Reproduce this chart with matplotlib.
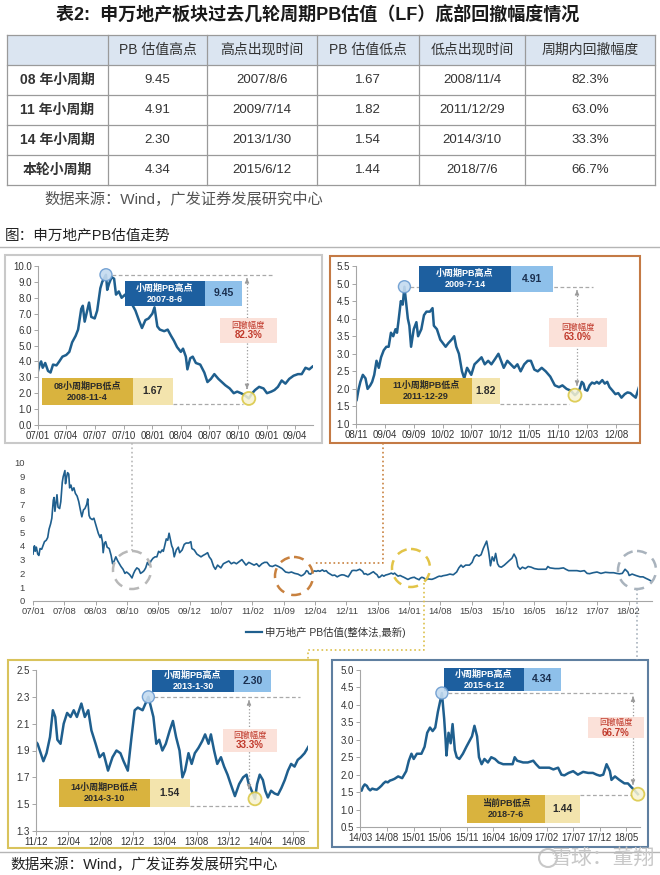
import numpy as np
import pandas as pd
import matplotlib
matplotlib.use('Agg')
import matplotlib.pyplot as plt
import matplotlib.dates as mdates
from matplotlib.patches import Rectangle, Circle

plt.rcParams['font.family'] = ['Liberation Sans', 'Noto Sans CJK SC']

W, H = 660, 875
LINE = '#1f5f8e'

# table values
cycles = ['08 年小周期', '11 年小周期', '14 年小周期', '本轮小周期']
headers = ['', 'PB 估值高点', '高点出现时间', 'PB 估值低点', '低点出现时间', '周期内回撤幅度']
pb_high = [9.45, 4.91, 2.30, 4.34]
high_dates = ['2007/8/6', '2009/7/14', '2013/1/30', '2015/6/12']
pb_low = [1.67, 1.82, 1.54, 1.44]
low_dates = ['2008/11/4', '2011/12/29', '2014/3/10', '2018/7/6']
drawdown = [82.3, 63.0, 33.3, 66.7]
low_tags = ['08小周期PB低点', '11小周期PB低点', '14小周期PB低点', '当前PB低点']

# PB series
dates = [
    '2007-01-01', '2007-01-06', '2007-01-11', '2007-01-16', '2007-01-24', '2007-02-02', '2007-02-10', '2007-02-18',
    '2007-03-01', '2007-03-10', '2007-03-20', '2007-04-01', '2007-04-11', '2007-04-20', '2007-05-01', '2007-05-09',
    '2007-05-19', '2007-05-24', '2007-05-30', '2007-06-06', '2007-06-13', '2007-06-20', '2007-07-01', '2007-07-09',
    '2007-07-19', '2007-07-25', '2007-08-06', '2007-08-10', '2007-08-16', '2007-08-24', '2007-09-01', '2007-09-07',
    '2007-09-16', '2007-09-25', '2007-10-06', '2007-10-16', '2007-10-28', '2007-11-08', '2007-11-19', '2007-11-29',
    '2007-12-10', '2007-12-20',
    '2008-01-01', '2008-01-08', '2008-01-17', '2008-01-25', '2008-02-08', '2008-02-19', '2008-03-01', '2008-03-10',
    '2008-03-20', '2008-04-01', '2008-04-08', '2008-04-17', '2008-04-22', '2008-05-01', '2008-05-09', '2008-05-19',
    '2008-06-02', '2008-06-15', '2008-06-25', '2008-07-06', '2008-07-17', '2008-07-30', '2008-08-10', '2008-08-21',
    '2008-09-04', '2008-09-17', '2008-09-28', '2008-10-10', '2008-10-20', '2008-11-04', '2008-11-15', '2008-11-24',
    '2008-12-07', '2008-12-21',
    '2009-01-01', '2009-01-15', '2009-01-25', '2009-02-05', '2009-02-17', '2009-03-01', '2009-03-13', '2009-03-27',
    '2009-04-10', '2009-04-22', '2009-05-04', '2009-05-16', '2009-05-28', '2009-06-05', '2009-06-12', '2009-06-25',
    '2009-07-05', '2009-07-14', '2009-07-22', '2009-08-01', '2009-08-09', '2009-08-18', '2009-09-01', '2009-09-15',
    '2009-09-24', '2009-10-11', '2009-10-25', '2009-11-07', '2009-11-25', '2009-12-09', '2009-12-16',
    '2010-01-01', '2010-01-19', '2010-02-02', '2010-02-16', '2010-03-02', '2010-03-19', '2010-04-02', '2010-04-13',
    '2010-04-27', '2010-05-13', '2010-05-25', '2010-06-09', '2010-07-01', '2010-07-18', '2010-08-06', '2010-08-24',
    '2010-09-10', '2010-09-28', '2010-10-15', '2010-11-03', '2010-11-21', '2010-12-05', '2010-12-19',
    '2011-01-07', '2011-01-25', '2011-02-12', '2011-03-01', '2011-03-18', '2011-04-06', '2011-04-24', '2011-05-11',
    '2011-05-29', '2011-06-16', '2011-07-07', '2011-07-28', '2011-08-21', '2011-09-14', '2011-10-06', '2011-10-24',
    '2011-11-15', '2011-12-07', '2011-12-29',
    '2012-01-10', '2012-01-23', '2012-02-03', '2012-02-12', '2012-02-20', '2012-03-03', '2012-03-15', '2012-03-28',
    '2012-04-10', '2012-04-22', '2012-05-04', '2012-05-21', '2012-06-03', '2012-06-16', '2012-06-28', '2012-07-14',
    '2012-07-29', '2012-08-13', '2012-08-30', '2012-09-16', '2012-10-01', '2012-10-16', '2012-10-28', '2012-11-13',
    '2012-11-27', '2012-12-09', '2012-12-21',
    '2013-01-08', '2013-01-30', '2013-02-18', '2013-03-01', '2013-03-12', '2013-03-24', '2013-04-06', '2013-04-21',
    '2013-05-03', '2013-05-15', '2013-05-28', '2013-06-08', '2013-06-18', '2013-07-01', '2013-07-13', '2013-07-25',
    '2013-08-08', '2013-08-22', '2013-09-02', '2013-09-15', '2013-09-24', '2013-10-06', '2013-10-18', '2013-11-01',
    '2013-11-13', '2013-11-26', '2013-12-08', '2013-12-24',
    '2014-01-09', '2014-01-24', '2014-02-06', '2014-02-13', '2014-03-10', '2014-03-18', '2014-03-28', '2014-04-09',
    '2014-04-18', '2014-04-28', '2014-05-10', '2014-05-23', '2014-06-05', '2014-06-18', '2014-07-01', '2014-07-13',
    '2014-07-25', '2014-08-07', '2014-08-19', '2014-08-31', '2014-09-14', '2014-10-05', '2014-10-28', '2014-11-20',
    '2014-12-05', '2014-12-20',
    '2015-01-02', '2015-01-20', '2015-02-15', '2015-03-05', '2015-03-20', '2015-04-05', '2015-04-20', '2015-05-05',
    '2015-05-20', '2015-06-12', '2015-06-25', '2015-07-03', '2015-07-08', '2015-07-20', '2015-08-01', '2015-08-12',
    '2015-08-25', '2015-09-05', '2015-09-20', '2015-10-10', '2015-10-30', '2015-11-15', '2015-12-01', '2015-12-15',
    '2015-12-30',
    '2016-01-10', '2016-01-25', '2016-02-10', '2016-03-01', '2016-03-20', '2016-04-10', '2016-05-01', '2016-05-27',
    '2016-06-25', '2016-07-20', '2016-08-01', '2016-08-15', '2016-09-18', '2016-10-15', '2016-11-15', '2016-12-01',
    '2016-12-20',
    '2017-01-15', '2017-02-15', '2017-03-10', '2017-04-06', '2017-04-25', '2017-05-12', '2017-06-05', '2017-07-01',
    '2017-07-28', '2017-08-27', '2017-09-25', '2017-10-22', '2017-11-12', '2017-12-01', '2017-12-20',
    '2018-01-08', '2018-01-27', '2018-02-05', '2018-02-25', '2018-03-22', '2018-04-20', '2018-05-10', '2018-05-28',
    '2018-06-17', '2018-07-06',
]
pb = [
    3.4, 3.8, 4.0, 3.6, 3.9, 3.4, 3.3, 3.8,
    3.75, 4.0, 4.3, 4.4, 4.6, 5.2, 5.6, 6.0,
    7.3, 7.5, 6.5, 7.1, 7.7, 6.8, 6.7, 7.2,
    8.6, 9.0, 9.45, 8.5, 8.9, 9.3, 9.2, 8.2,
    8.4, 8.0, 8.2, 7.8, 7.6, 7.2, 6.6, 6.1,
    6.6, 6.7,
    7.0, 7.4, 6.2, 6.0, 5.9, 6.0, 5.6, 5.3,
    4.9, 4.6, 4.8, 4.3, 3.5, 4.2, 4.3, 3.9,
    3.8, 3.3, 2.7, 2.9, 3.2, 2.9, 2.7, 2.5,
    2.3, 2.0, 2.1, 2.0, 1.9, 1.67, 2.0, 2.2,
    2.4, 2.3,
    2.0, 2.1, 2.2, 2.4, 2.8, 2.6, 2.9, 3.1,
    3.2, 3.2, 3.6, 3.5, 3.7, 3.6, 3.9, 4.5,
    4.4, 4.91, 4.5, 4.0, 3.8, 3.2, 3.7, 3.9,
    3.5, 3.7, 4.1, 4.2, 4.2, 4.3, 3.8,
    3.7, 3.4, 3.3, 3.2, 3.3, 3.4, 3.5, 3.2,
    3.0, 2.5, 2.3, 2.6, 2.4, 2.7, 2.8, 2.9,
    2.7, 2.8, 2.7, 2.85, 3.0, 2.8, 2.6,
    2.8, 2.7, 2.6, 2.7, 2.5, 2.7, 2.8, 2.8,
    2.55, 2.5, 2.6, 2.5, 2.35, 2.1, 2.05, 2.1,
    2.0, 1.95, 1.82,
    1.88, 2.0, 2.2, 2.15, 1.98, 1.95, 2.1, 2.18,
    2.15, 2.2, 2.15, 2.25, 2.15, 2.2, 2.05, 1.95,
    1.85, 1.88, 1.75, 1.85, 1.9, 1.88, 1.82, 1.75,
    2.0, 2.2, 2.22,
    2.2, 2.30, 2.15, 1.95, 1.98, 1.9, 1.95, 2.05,
    2.12, 2.0, 1.9, 1.7, 1.75, 1.88, 1.8, 1.88,
    1.92, 1.97, 2.02, 1.95, 2.02, 1.9, 1.8, 1.85,
    1.78, 1.72, 1.65, 1.56,
    1.65, 1.7, 1.72, 1.66, 1.54, 1.65, 1.72, 1.68,
    1.6, 1.55, 1.6, 1.58, 1.57, 1.62, 1.68, 1.75,
    1.8, 1.78, 1.83, 1.85, 1.88, 1.95, 1.9, 2.1,
    2.4, 2.6,
    2.45, 2.6, 2.6, 2.8, 3.2, 3.35, 3.25, 3.35,
    3.8, 4.34, 3.6, 3.0, 2.55, 3.2, 2.9, 3.45,
    2.7, 2.5, 2.45, 2.6, 2.8, 2.95, 3.1, 3.4,
    3.1,
    2.5, 2.3, 2.45, 2.35, 2.5, 2.45, 2.35, 2.3,
    2.3, 2.3, 2.5, 2.4, 2.35, 2.35, 2.4, 2.3,
    2.2,
    2.2, 2.2, 2.15, 2.2, 2.0, 1.98, 2.05, 2.1,
    2.0, 2.08, 2.05, 2.05, 2.0, 1.97, 2.0,
    2.3, 2.1, 1.85, 1.95, 1.85, 1.75, 1.75, 1.65,
    1.55, 1.44,
]
assert len(dates) == len(pb)
s = pd.Series(pb, index=pd.to_datetime(dates))

fig = plt.figure(figsize=(W / 100, H / 100), dpi=100)


def frac(x0, y0, x1, y1):
    return [x0 / W, 1 - y1 / H, (x1 - x0) / W, (y1 - y0) / H]


def make_axes(rect, xlim, ticks, ylim, ystep, fmt, lw):
    ax = fig.add_axes(frac(*rect))
    ax.plot(s.index, s.values, color=LINE, lw=lw, solid_joinstyle='round')
    ax.set_xlim(pd.Timestamp(xlim[0]), pd.Timestamp(xlim[1]))
    ax.set_ylim(*ylim)
    tk = pd.date_range(ticks[0], ticks[1], freq=ticks[2])
    ax.set_xticks(tk)
    ax.set_xticklabels([d.strftime('%y/%m') for d in tk])
    ax.set_yticks(np.round(np.arange(ylim[0], ylim[1] + 1e-6, ystep), 2))
    ax.yaxis.set_major_formatter(plt.FormatStrFormatter(fmt))
    for side in ['top', 'right']:
        ax.spines[side].set_visible(False)
    for side in ['left', 'bottom']:
        ax.spines[side].set_color('#a6a6a6')
        ax.spines[side].set_linewidth(0.8)
    ax.tick_params(labelsize=7, length=3, width=0.7, color='#a6a6a6', labelcolor='#333333', pad=1.5)
    return ax


panels = [
    dict(box=(5, 255, 322, 443), edge='#c9c9c9', axes=(38, 266, 313, 425),
         xlim=('2007-01-01', '2009-05-28'), ticks=('2007-01-01', '2009-04-01', '3MS'),
         ylim=(0, 10), ystep=1.0, cycle=0,
         hi_box=(125, 281, 205, 242, 306), pct_box=(220, 318, 277, 343),
         lo_box=(42, 378, 133, 173, 405), arrow_x=247, hi_end=273, lo_y=404),
    dict(box=(330, 256, 640, 443), edge='#c47a45', axes=(356, 266, 638, 424),
         xlim=('2008-11-01', '2012-11-25'), ticks=('2008-11-01', '2012-08-01', '5MS'),
         ylim=(1.0, 5.5), ystep=0.5, cycle=1,
         hi_box=(419, 266, 511, 553, 292), pct_box=(549, 318, 607, 347),
         lo_box=(380, 378, 472, 500, 404), arrow_x=577, hi_end=593, lo_y=404),
    dict(box=(8, 660, 318, 848), edge='#d9c35c', axes=(36, 670, 308, 831),
         xlim=('2011-12-01', '2014-09-27'), ticks=('2011-12-01', '2014-08-01', '4MS'),
         ylim=(1.3, 2.5), ystep=0.2, cycle=2,
         hi_box=(152, 670, 234, 271, 692), pct_box=(223, 729, 277, 752),
         lo_box=(59, 779, 150, 190, 807), arrow_x=249, hi_end=300, lo_y=806),
    dict(box=(332, 660, 648, 847), edge='#5f7fa0', axes=(360, 670, 640, 827),
         xlim=('2014-03-01', '2018-07-18'), ticks=('2014-03-01', '2018-05-01', '5MS'),
         ylim=(0.5, 5.0), ystep=0.5, cycle=3,
         hi_box=(444, 668, 524, 561, 691), pct_box=(588, 717, 644, 738),
         lo_box=(467, 795, 545, 580, 823), arrow_x=633, hi_end=635, lo_y=795),
]

axes = [make_axes(p['axes'], p['xlim'], p['ticks'], p['ylim'], p['ystep'], '%.1f', 1.8) for p in panels]
mid = make_axes((33, 463, 652, 601), ('2007-01-01', '2018-07-10'), ('2007-01-01', '2018-02-01', '7MS'),
                (0, 10), 1, '%d', 1.2)
mid.spines['left'].set_visible(False)
mid.tick_params(axis='y', length=0, pad=6)
mid.tick_params(labelsize=6.8, labelcolor='#444444')

# overlay in pixel coordinates for all the decoration
ov = fig.add_axes([0, 0, 1, 1], zorder=10)
ov.set_xlim(0, W)
ov.set_ylim(H, 0)
ov.axis('off')


def dpx(ax, d, v):
    x, y = ax.transData.transform((mdates.date2num(pd.Timestamp(d)), v))
    return x, H - y


def rect(x0, y0, x1, y1, fc='none', ec='none', lw=0, z=2):
    ov.add_patch(Rectangle((x0, y0), x1 - x0, y1 - y0, fc=fc, ec=ec, lw=lw, zorder=z))


# title and table
ov.text(318, 14, '表2:  申万地产板块过去几轮周期PB估值（LF）底部回撤幅度情况', ha='center', va='center',
        fontsize=13, fontweight='bold', color='#1a1a1a')
cols = [7, 108, 207, 317, 419, 525, 655]
rows = [35, 65, 95, 125, 155, 185]
rect(cols[0], rows[0], cols[-1], rows[1], fc='#dbe5f1')
for y in rows:
    ov.plot([cols[0], cols[-1]], [y, y], color='#9a9a9a', lw=0.9)
for x in cols:
    ov.plot([x, x], [rows[0], rows[-1]], color='#9a9a9a', lw=0.9)
for j, h in enumerate(headers):
    ov.text((cols[j] + cols[j + 1]) / 2, 50, h, ha='center', va='center', fontsize=10, color='#333333')
for i in range(4):
    yc = (rows[i + 1] + rows[i + 2]) / 2
    cells = [cycles[i], f'{pb_high[i]:.2f}', high_dates[i], f'{pb_low[i]:.2f}', low_dates[i], f'{drawdown[i]:.1f}%']
    for j, c in enumerate(cells):
        ov.text((cols[j] + cols[j + 1]) / 2, yc, c, ha='center', va='center', fontsize=10 if j == 0 else 9.5,
                fontweight='bold' if j == 0 else 'normal', color='#333333')
ov.text(44, 199, '数据来源：Wind，广发证券发展研究中心', ha='left', va='center', fontsize=11, color='#555555')

ov.text(5, 236, '图：申万地产PB估值走势', ha='left', va='center', fontsize=10.5, color='#222222')
ov.plot([0, W], [247, 247], color='#b5b5b5', lw=1)

# sub-panels: borders and annotations
for ax, p in zip(axes, panels):
    bx = p['box']
    rect(*bx, ec=p['edge'], lw=1.5, z=1)
    i = p['cycle']
    hx, hy = dpx(ax, high_dates[i].replace('/', '-'), pb_high[i])
    lx, ly = dpx(ax, low_dates[i].replace('/', '-'), pb_low[i])
    x0, y0, x1, x2, y1 = p['hi_box']
    ov.plot([hx + 6, p['hi_end']], [hy, hy], color='#a9a9a9', lw=0.9, ls=(0, (3, 2)), zorder=1)
    rect(x0, y0, x1, y1, fc='#1d5f9f')
    rect(x1, y0, x2, y1, fc='#8ec0ea')
    ov.text((x0 + x1) / 2, (y0 + y1) / 2, '小周期PB高点\n' + high_dates[i].replace('/', '-'), ha='center',
            va='center', fontsize=6.5, fontweight='bold', color='white', linespacing=1.3, zorder=3)
    ov.text((x1 + x2) / 2, (y0 + y1) / 2, f'{pb_high[i]:.2f}', ha='center', va='center', fontsize=7.5,
            fontweight='bold', color='#1a2f4f', zorder=3)
    # drawdown arrow
    ax_x = p['arrow_x']
    top, bot = hy + 1, ly - 7
    ov.plot([ax_x, ax_x], [top + 4, bot - 4], color='#9a9a9a', lw=0.9, ls=':', zorder=1)
    ov.annotate('', xy=(ax_x, top), xytext=(ax_x, top + 6),
                arrowprops=dict(arrowstyle='-|>', color='#9a9a9a', lw=0.8, mutation_scale=6))
    ov.annotate('', xy=(ax_x, bot), xytext=(ax_x, bot - 6),
                arrowprops=dict(arrowstyle='-|>', color='#9a9a9a', lw=0.8, mutation_scale=6))
    px0, py0, px1, py1 = p['pct_box']
    rect(px0, py0, px1, py1, fc='#fbe1d9')
    ov.text((px0 + px1) / 2, (py0 + py1) / 2 - 5, '回撤幅度', ha='center', va='center', fontsize=6,
            color='#c0392b', zorder=3)
    ov.text((px0 + px1) / 2, (py0 + py1) / 2 + 5, f'{drawdown[i]:.1f}%', ha='center', va='center', fontsize=7,
            fontweight='bold', color='#c0392b', zorder=3)
    lx0, ly0, lx1, lx2, ly1 = p['lo_box']
    rect(lx0, ly0, lx1, ly1, fc='#d9b33e')
    rect(lx1, ly0, lx2, ly1, fc='#f3e4ad')
    ov.text((lx0 + lx1) / 2, (ly0 + ly1) / 2, low_tags[i] + '\n' + low_dates[i].replace('/', '-'), ha='center',
            va='center', fontsize=6.5, fontweight='bold', color='#2b2b2b', linespacing=1.3, zorder=3)
    ov.text((lx1 + lx2) / 2, (ly0 + ly1) / 2, f'{pb_low[i]:.2f}', ha='center', va='center', fontsize=7.5,
            fontweight='bold', color='#2b2b2b', zorder=3)
    ov.plot([lx2, lx - 6], [p['lo_y'], p['lo_y']], color='#a9a9a9', lw=0.9, ls=(0, (3, 2)), zorder=1)
    ov.add_patch(Circle((hx, hy), 6, fc='#c4dbf0', ec='#6a9bd0', lw=1, alpha=0.9, zorder=4))
    ov.add_patch(Circle((lx, ly), 6.5, fc='#f7f3d2', ec='#d9c640', lw=1.3, alpha=0.85, zorder=4))

# middle chart: dashed rings, connectors, legend
rings = [(132, 570, '#b8b8b8'), (294, 576, '#c8813f'), (411, 568, '#e2c448'), (637, 570, '#a9b3bd')]
for cx, cy, c in rings:
    ov.add_patch(Circle((cx, cy), 19, fc='none', ec=c, lw=1.8, ls=(0, (4, 3)), zorder=4))
ov.plot([132, 132], [443, 551], color='#b8b8b8', ls=':', lw=1.2)
ov.plot([383, 383, 313], [443, 563, 563], color='#c8813f', ls=':', lw=1.2)
ov.plot([424, 424, 308, 308], [583, 650, 650, 660], color='#dcc04a', ls=':', lw=1.2)
ov.plot([637, 637], [589, 660], color='#a9b3bd', ls=':', lw=1.2)
ov.plot([246, 262], [632, 632], color=LINE, lw=1.6)
ov.text(265, 632, '申万地产 PB估值(整体法,最新)', ha='left', va='center', fontsize=7.5, color='#333333')

# footer
ov.plot([0, W], [852, 852], color='#b5b5b5', lw=1)
ov.text(10, 865, '数据来源：Wind，广发证券发展研究中心', ha='left', va='center', fontsize=10.5, color='#222222')
ov.add_patch(Circle((548, 858), 9, fc='none', ec='#c8c8c8', lw=1.5))
ov.text(655, 858, '雪球：董翔', ha='right', va='center', fontsize=15, color='#c8c8c8')

fig.savefig('out.png', dpi=100)
